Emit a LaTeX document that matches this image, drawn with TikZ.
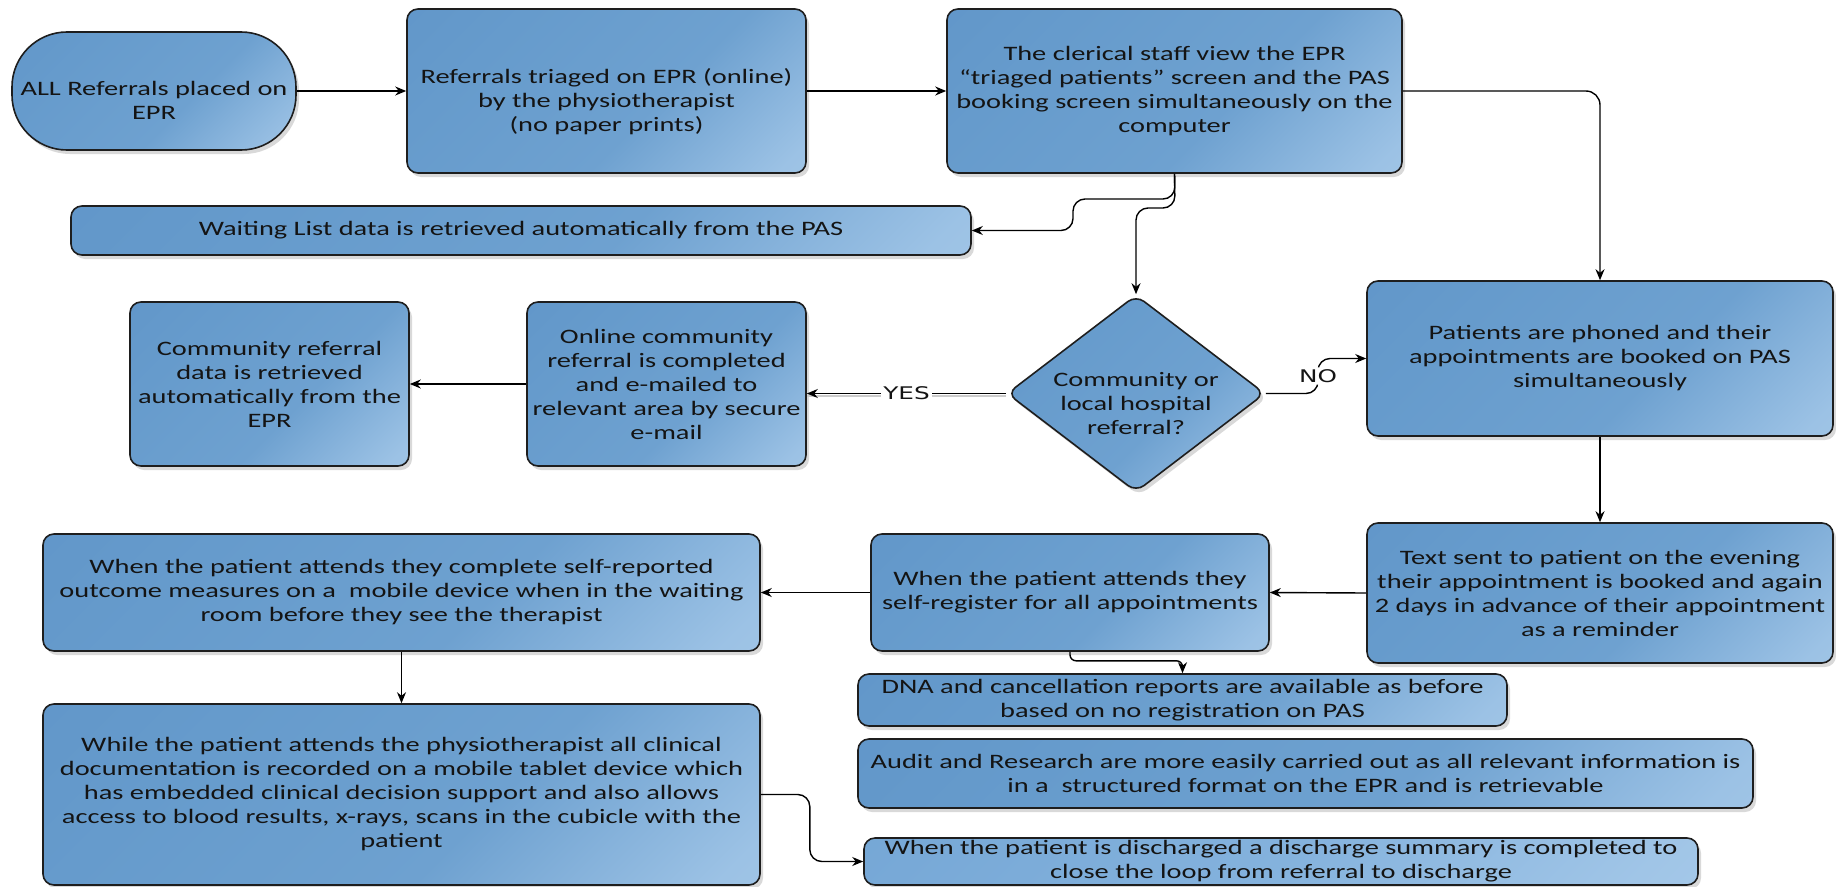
\documentclass[tikz,border=0pt]{standalone}
\usepackage{fontspec}
\newfontfamily\boxfont[FakeStretch=1.385]{Carlito}
\newfontfamily\labfont[FakeStretch=1.42]{DejaVu Sans}
\usetikzlibrary{shapes.geometric,arrows.meta,shadows}

\definecolor{edge}{RGB}{30,30,30}
\definecolor{ink}{RGB}{20,20,20}

% diagonal fill: mostly mid blue, lighter towards the lower right
\pgfdeclareverticalshading{boxshade}{100bp}{%
  color(0bp)=(rgb,255:red,168;green,202;blue,233);
  color(18bp)=(rgb,255:red,156;green,194;blue,229);
  color(42bp)=(rgb,255:red,110;green,161;blue,208);
  color(70bp)=(rgb,255:red,102;green,155;blue,204);
  color(100bp)=(rgb,255:red,94;green,147;blue,199)}
\pgfdeclareverticalshading{paleshade}{100bp}{%
  color(0bp)=(rgb,255:red,172;green,205;blue,235);
  color(20bp)=(rgb,255:red,160;green,197;blue,231);
  color(50bp)=(rgb,255:red,132;green,178;blue,221);
  color(100bp)=(rgb,255:red,112;green,163;blue,211)}

% text block that takes no room and sits #1 below the node centre
\newcommand\lowblock[2]{\makebox[0pt]{\raisebox{-#1}[0pt][0pt]{\begin{tabular}{@{}c@{}}#2\end{tabular}}}}

\tikzset{
  box/.style={draw=edge, line width=1.6pt, rounded corners=11pt,
    shading=boxshade, shading angle=45,
    drop shadow={opacity=0.3, shadow xshift=3pt, shadow yshift=-4pt},
    align=center, text=ink, inner sep=0pt,
    font=\boxfont\fontsize{20.5}{24}\selectfont},
  conn/.style={draw=black, line width=1.4pt, -{Stealth[length=11pt,width=9pt]}},
  lab/.style={fill=white, text=ink, inner sep=2pt,
    font=\labfont\fontsize{17.4}{20}\selectfont},
}

\begin{document}
\begin{tikzpicture}[x=1pt, y=-1pt]
\useasboundingbox (0,0) rectangle (1836,886);

% ---- top row
\node[box, rounded corners=55pt, minimum width=284pt, minimum height=118pt] (start) at (154,91)
  {\lowblock{17pt}{ALL Referrals placed on\\EPR}};
\node[box, minimum width=399pt, minimum height=164pt] (triage) at (606.5,91)
  {\lowblock{17pt}{Referrals triaged on EPR (online)\\by the physiotherapist\\(no paper prints)}};
\node[box, minimum width=455pt, minimum height=164pt] (clerical) at (1174.5,91)
  {The clerical staff view the EPR\\“triaged patients” screen and the PAS\\booking screen simultaneously on the\\computer};

\node[box, minimum width=900pt, minimum height=49pt] (waiting) at (521,230.5)
  {Waiting List data is retrieved automatically from the PAS};

% ---- decision row
\node[box, diamond, rounded corners=10pt, minimum width=258pt, minimum height=197pt] (decide) at (1136,393.5)
  {\lowblock{17pt}{Community or\\local hospital\\referral?}};
\node[box, minimum width=466pt, minimum height=155pt] (phoned) at (1600,358.5)
  {Patients are phoned and their\\appointments are booked on PAS\\simultaneously};
\node[box, minimum width=279pt, minimum height=164pt] (online) at (666.5,384)
  {Online community\\referral is completed\\and e-mailed to\\relevant area by secure\\e-mail};
\node[box, minimum width=279pt, minimum height=164pt] (commdata) at (269.5,384)
  {Community referral\\data is retrieved\\automatically from the\\EPR};

% ---- attendance row
\node[box, minimum width=466pt, minimum height=140pt] (textsent) at (1600,593)
  {Text sent to patient on the evening\\their appointment is booked and again\\2 days in advance of their appointment\\as a reminder};
\node[box, minimum width=398pt, minimum height=117pt] (selfreg) at (1070,592.5)
  {When the patient attends they\\self-register for all appointments};
\node[box, minimum width=717pt, minimum height=117pt] (outcome) at (401.5,592.5)
  {When the patient attends they complete self-reported\\outcome measures on a\ \ mobile device when in the waiting\\room before they see the therapist};

% ---- bottom row
\node[box, minimum width=717pt, minimum height=181pt] (clinic) at (401.5,794.5)
  {While the patient attends the physiotherapist all clinical\\documentation is recorded on a mobile tablet device which\\has embedded clinical decision support and also allows\\access to blood results, x-rays, scans in the cubicle with the\\patient};
\node[box, minimum width=649pt, minimum height=52pt] (dna) at (1182.5,700)
  {DNA and cancellation reports are available as before\\based on no registration on PAS};
\node[box, minimum width=895pt, minimum height=69pt] (audit) at (1305.5,773.5)
  {Audit and Research are more easily carried out as all relevant information is\\in a\ \ structured format on the EPR and is retrievable};
\node[box, shading=paleshade, minimum width=834pt, minimum height=47pt] (discharge) at (1281,861.5)
  {When the patient is discharged a discharge summary is completed to\\close the loop from referral to discharge};

% ---- connectors
\draw[conn] (start.east) -- (triage.west);
\draw[conn] (triage.east) -- (clerical.west);
\draw[conn, rounded corners=14pt] (clerical.east) -| (phoned.north);
\draw[conn, rounded corners=12pt] (clerical.south) -- (1175,199) -- (1073,199) -- (1073,230.5) -- (waiting.east);
\draw[conn, rounded corners=12pt] (clerical.south) -- (1175,208) -- (1136,208) -- (decide.north);

\draw[gray!40, line width=2.4pt] ([yshift=-2.5pt]decide.west) -- ([yshift=-2.5pt]decide.west -| online.east);
\draw[conn] (decide.west) -- node[lab] {YES} (decide.west -| online.east);
\draw[conn, rounded corners=12pt] (decide.east) -- (1318,393.5) -- node[lab] {NO} (1318,358.5) -- (phoned.west);

\draw[conn] (online.west) -- (commdata.east);
\draw[conn] (phoned.south) -- (textsent.north);
\draw[conn] (textsent.west) -- (selfreg.east);
\draw[conn] (selfreg.west) -- (outcome.east);
\draw[conn] (outcome.south) -- (clinic.north);
\draw[conn, rounded corners=6pt] (selfreg.south) -- ++(0,9) -| (dna.north);
\draw[conn, rounded corners=12pt] (clinic.east) -- ++(49,0) |- (discharge.west);
\end{tikzpicture}
\end{document}
